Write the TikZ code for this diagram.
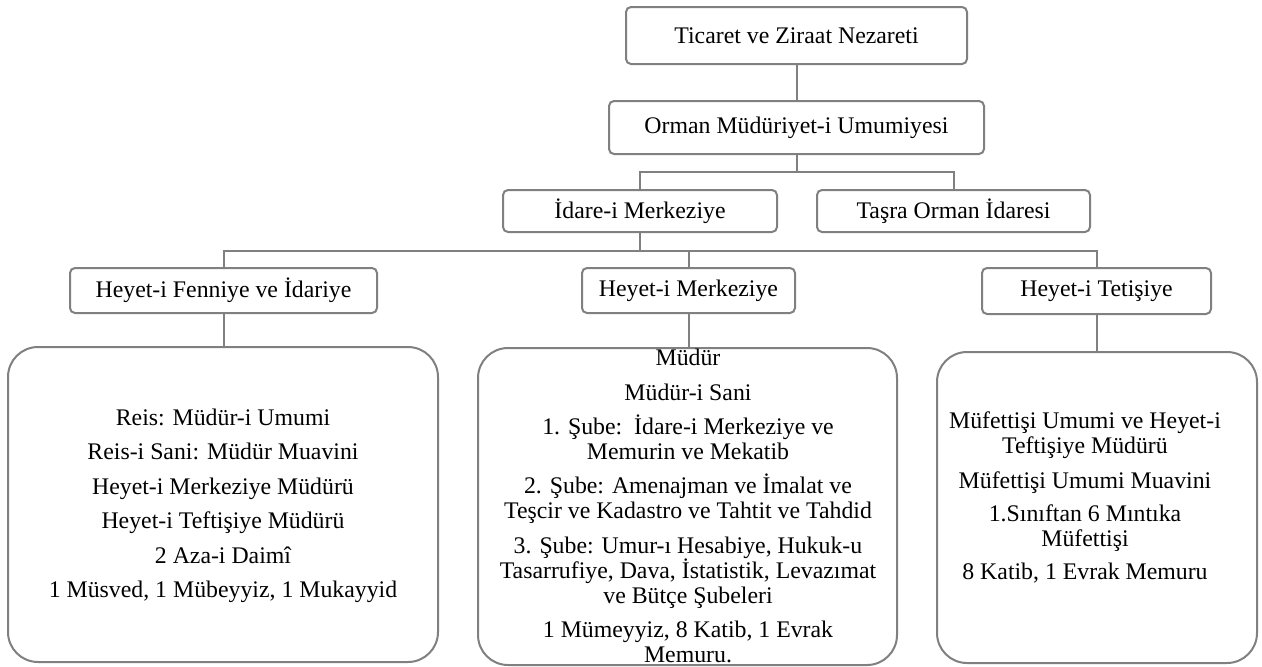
\documentclass[tikz,border=0pt]{standalone}
\usepackage{fontspec}
\setmainfont{Liberation Serif}
\definecolor{linegray}{RGB}{128,128,128}
\begin{document}
\begin{tikzpicture}[x=1pt,y=-1pt,
  box/.style={draw=linegray, line width=2pt, rounded corners=5pt, inner sep=0pt,
    font=\fontsize{23.8}{25}\selectfont},
  bigbox/.style={draw=linegray, line width=2pt, rounded corners=30pt, inner sep=0pt},
  conn/.style={draw=linegray, line width=2pt},
  txt/.style={align=center, inner sep=0pt, font=\fontsize{23.8}{25}\selectfont}]
\useasboundingbox (0,0) rectangle (1262,667);
% level 0-1
\node[box, minimum width=341pt, minimum height=57pt] (n1) at (796.5,35.5) {Ticaret ve Ziraat Nezareti};
\node[box, minimum width=375pt, minimum height=53pt] (n2) at (796.5,127.5) {Orman Müdüriyet-i Umumiyesi};
% level 2
\node[box, minimum width=274pt, minimum height=42pt] (n3) at (640,211) {İdare-i Merkeziye};
\node[box, minimum width=273pt, minimum height=42pt] (n4) at (953.5,211) {Taşra Orman İdaresi};
% level 3
\node[box, minimum width=307pt, minimum height=45pt] (f) at (223.5,290.5) {Heyet-i Fenniye ve İdariye};
\node[box, minimum width=213pt, minimum height=45pt] (m) at (688.5,290.5) {Heyet-i Merkeziye};
\node[box, minimum width=229pt, minimum height=46pt] (t) at (1096.5,291) {Heyet-i Tetişiye};
% big boxes
\node[bigbox, minimum width=430pt, minimum height=315pt] (bl) at (223,504.5) {};
\node[bigbox, minimum width=419pt, minimum height=317pt] (bm) at (687.5,506.5) {};
\node[bigbox, minimum width=320pt, minimum height=311pt] (br) at (1097,507.5) {};
% texts
\node[txt] (tl) at (223,506) {Reis: Müdür-i Umumi\\[9.5pt]
  Reis-i Sani: Müdür Muavini\\[9.5pt]
  Heyet-i Merkeziye Müdürü\\[9.5pt]
  Heyet-i Teftişiye Müdürü\\[9.5pt]
  2 Aza-i Daimî\\[9.5pt]
  1 Müsved, 1 Mübeyyiz, 1 Mukayyid};
\node[txt] (tm) at (688,506) {Müdür\\[9.5pt]
  Müdür-i Sani\\[9.5pt]
  1. Şube:\ \ İdare-i Merkeziye ve\\
  Memurin ve Mekatib\\[9pt]
  2. Şube: Amenajman ve İmalat ve\\
  Teşcir ve Kadastro ve Tahtit ve Tahdid\\[9.5pt]
  3. Şube: Umur-ı Hesabiye, Hukuk-u\\
  Tasarrufiye, Dava, İstatistik, Levazımat\\
  ve Bütçe Şubeleri\\[9.5pt]
  1 Mümeyyiz, 8 Katib, 1 Evrak\\
  Memuru.};
\node[txt] (tr) at (1085,497) {Müfettişi Umumi ve Heyet-i\\
  Teftişiye Müdürü\\[10pt]
  Müfettişi Umumi Muavini\\[8pt]
  1.Sınıftan 6 Mıntıka\\
  Müfettişi\\[8pt]
  8 Katib, 1 Evrak Memuru};
% connectors
\coordinate (j1) at (796.5,172);
\coordinate (j2) at (640,251);
\draw[conn] (n1.south) -- (n2.north);
\draw[conn] (n2.south) -- (j1);
\draw[conn] (n3.north) |- (j1) -| (n4.north);
\draw[conn] (n3.south) -- (j2);
\draw[conn] (f.north) |- (j2) -| (t.north);
\draw[conn] (m.north) -- (m.north |- j2);
\draw[conn] (f.south) -- (f.south |- bl.north);
\draw[conn] (m.south) -- (m.south |- bm.north);
\draw[conn] (t.south) -- (t.south |- br.north);
\end{tikzpicture}
\end{document}
